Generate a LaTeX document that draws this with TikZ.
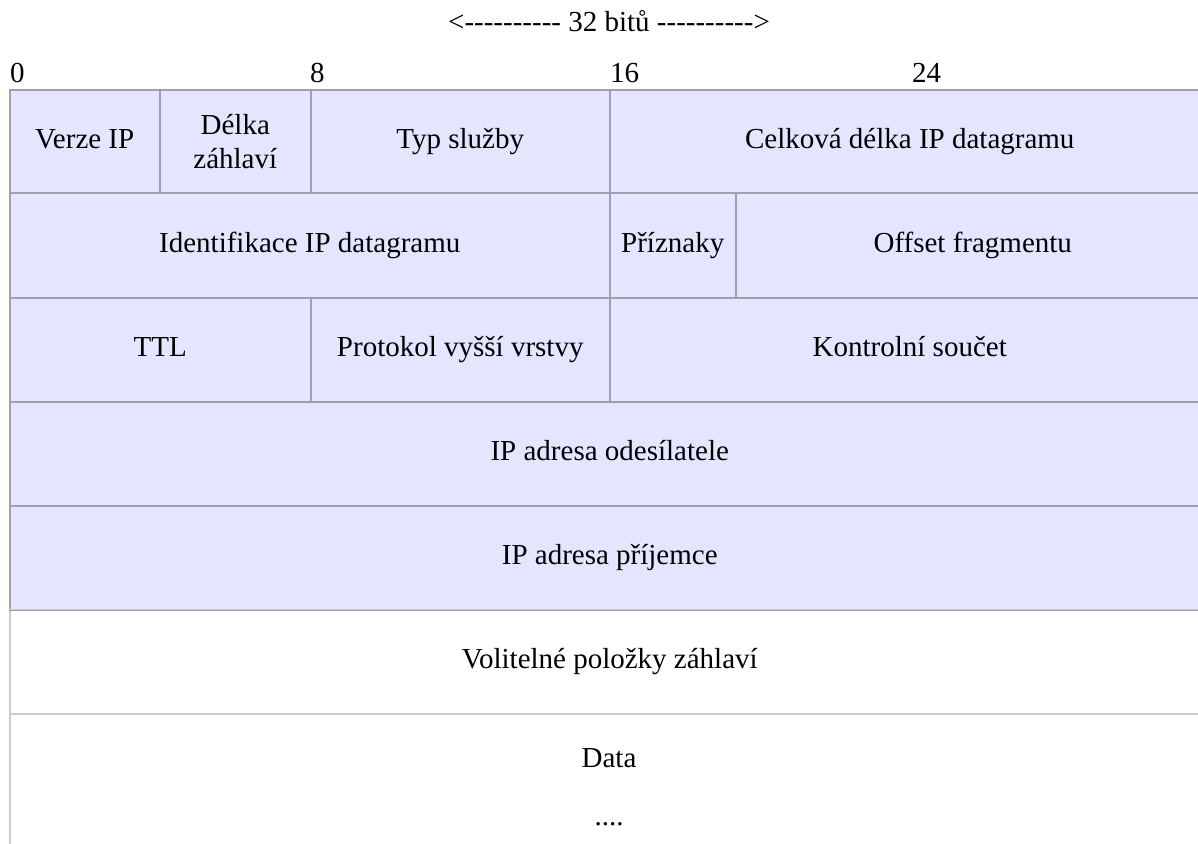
\documentclass[tikz,border=0pt]{standalone}
\usepackage{fontspec}
\setmainfont{Liberation Serif}
\definecolor{cellfill}{RGB}{229,229,255}
\definecolor{lineC}{RGB}{160,160,170}
\definecolor{lightC}{RGB}{204,204,204}
\newcommand{\tendash}{-{}-{}-{}-{}-{}-{}-{}-{}-{}-}
\begin{document}
\begin{tikzpicture}[x=1pt,y=-1pt,
  every node/.style={font=\fontsize{29}{34}\selectfont},
  cell/.style={draw=lineC, fill=cellfill, line width=1.5pt, rectangle, inner sep=0pt,
    anchor=north west, text height=1.5em, text depth=0.15em},
  wcell/.style={cell, draw=lightC, fill=white},
  lab/.style={inner sep=0pt, anchor=base west},
  hdr/.style={inner sep=0pt, anchor=base}]
\useasboundingbox (0,0) rectangle (1198,843);
\fill[white] (0,0) rectangle (1198,843);
% header
\node[hdr] (title) at (609,32) {<\tendash{} 32 bitů \tendash>};
\node[lab] (b0) at (10,82) {0};
\node[lab] (b8) at (310,82) {8};
\node[lab] (b16) at (610,82) {16};
\node[lab] (b24) at (912,82) {24};
% row 1
\node[cell, minimum width=150pt, minimum height=103pt] (verze) at (9,89) {Verze IP};
\node[cell, minimum width=151pt, minimum height=103pt, align=center, text height=, text depth=] (delka) at (159,89) {Délka\\záhlaví};
\node[cell, minimum width=299pt, minimum height=103pt] (typ) at (310,89) {Typ služby};
\node[cell, minimum width=600pt, minimum height=103pt] (celk) at (609,89) {Celková délka IP datagramu};
% row 2
\node[cell, minimum width=600pt, minimum height=105pt] (ident) at (9,192) {Identifikace IP datagramu};
\node[cell, minimum width=126pt, minimum height=105pt] (priz) at (609,192) {Příznaky};
\node[cell, minimum width=474pt, minimum height=105pt] (offs) at (735,192) {Offset fragmentu};
% row 3
\node[cell, minimum width=301pt, minimum height=104pt] (ttl) at (9,297) {TTL};
\node[cell, minimum width=299pt, minimum height=104pt] (proto) at (310,297) {Protokol vyšší vrstvy};
\node[cell, minimum width=600pt, minimum height=104pt] (kontr) at (609,297) {Kontrolní součet};
% rows 4-5
\node[cell, minimum width=1200pt, minimum height=104pt] (src) at (9,401) {IP adresa odesílatele};
\node[cell, minimum width=1200pt, minimum height=104pt] (dst) at (9,505) {IP adresa příjemce};
% white rows
\node[wcell, minimum width=1200pt, minimum height=104pt] (opt) at (9,609) {Volitelné položky záhlaví};
\node[wcell, minimum width=1200pt, minimum height=220pt] (datacell) at (9,713) {};
\draw[lineC, line width=1.5pt] (dst.south west) -- (dst.south east);
\node[hdr] (data) at (609,767) {Data};
\node[hdr] (dots) at (609,825) {....};
\end{tikzpicture}
\end{document}
